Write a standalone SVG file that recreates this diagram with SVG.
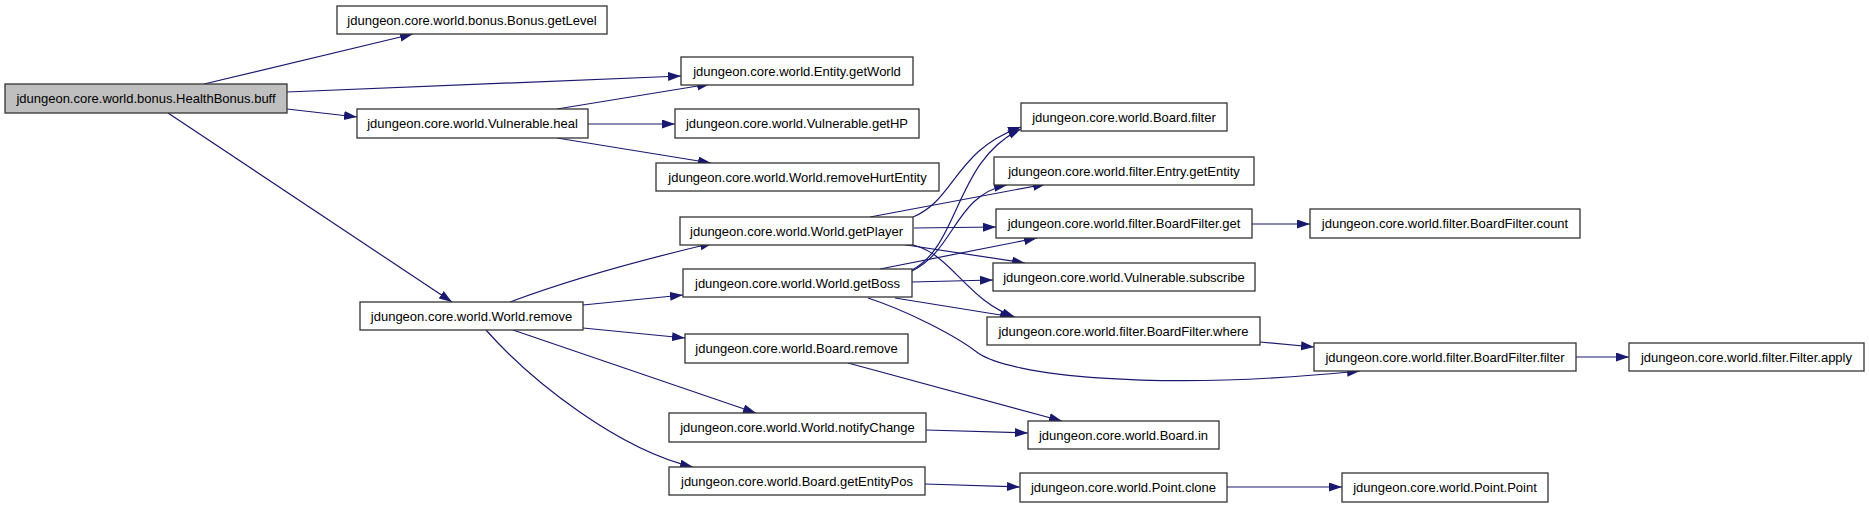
<svg xmlns="http://www.w3.org/2000/svg" width="1869" height="508" viewBox="0 0 1869 508">
<style>
.n rect{fill:#fff;stroke:#333;stroke-width:1.3}
.n.root rect{fill:#bfbfbf}
.n text{font-family:"Liberation Sans",Arial,sans-serif;font-size:13px;fill:#000;text-anchor:middle}
.e path{fill:none;stroke:#191970;stroke-width:1.2;marker-end:url(#a)}
</style>
<defs>
<marker id="a" markerUnits="userSpaceOnUse" markerWidth="14" markerHeight="10" refX="13" refY="4.5" orient="auto">
<path d="M0,0 L13,4.5 L0,9 z" fill="#191970"/>
</marker>
</defs>
<rect width="1869" height="508" fill="#fff"/>
<g id="edges" class="e">
<path d="M204,84 L413,34"/>
<path d="M287,92 L681,76"/>
<path d="M287,109 L357,117"/>
<path d="M168,113 L452,302"/>
<path d="M557,109 L710,84"/>
<path d="M588,124 L675,124"/>
<path d="M557,138 L711,163"/>
<path d="M510,302 Q590,272 713,243"/>
<path d="M583,305 L683,295"/>
<path d="M583,328 L685,338"/>
<path d="M513,330 L756,413"/>
<path d="M486,330 C533,383 620,450 693,467"/>
<path d="M870,217 L1046,184"/>
<path d="M913,217 C955,200 955,150 1021,127"/>
<path d="M914,228 L996,227"/>
<path d="M900,244 L1025,263"/>
<path d="M908,244 C950,250 965,300 1015,317"/>
<path d="M912,270 C960,245 955,160 1021,129"/>
<path d="M912,271 C955,250 955,195 1007,185"/>
<path d="M880,269 L1037,238"/>
<path d="M912,282 L993,280"/>
<path d="M895,298 L1013,317"/>
<path d="M868,298 C905,310 955,335 978,353 C1010,375 1150,392 1360,371"/>
<path d="M1260,342 L1314,347"/>
<path d="M1252,224 L1310,224"/>
<path d="M1576,357 L1629,357"/>
<path d="M848,363 L1062,421"/>
<path d="M926,430 L1028,433"/>
<path d="M925,484 L1020,487"/>
<path d="M1227,487 L1342,487"/>
</g>
<g id="buff" class="n root"><rect x="5" y="84" width="282" height="29"/><text x="146" y="103">jdungeon.core.world.bonus.HealthBonus.buff</text></g>
<g id="getLevel" class="n"><rect x="337" y="6" width="270" height="28"/><text x="472" y="25">jdungeon.core.world.bonus.Bonus.getLevel</text></g>
<g id="getWorld" class="n"><rect x="681" y="57" width="232" height="28"/><text x="797" y="76">jdungeon.core.world.Entity.getWorld</text></g>
<g id="heal" class="n"><rect x="357" y="109" width="231" height="29"/><text x="472.5" y="128">jdungeon.core.world.Vulnerable.heal</text></g>
<g id="getHP" class="n"><rect x="675" y="109" width="244" height="29"/><text x="797" y="128">jdungeon.core.world.Vulnerable.getHP</text></g>
<g id="removeHurtEntity" class="n"><rect x="656" y="163" width="283" height="28"/><text x="797.5" y="182">jdungeon.core.world.World.removeHurtEntity</text></g>
<g id="worldRemove" class="n"><rect x="360" y="302" width="223" height="28"/><text x="471.5" y="321">jdungeon.core.world.World.remove</text></g>
<g id="getPlayer" class="n"><rect x="680" y="217" width="233" height="28"/><text x="796.5" y="236">jdungeon.core.world.World.getPlayer</text></g>
<g id="getBoss" class="n"><rect x="683" y="269" width="229" height="28"/><text x="797.5" y="288">jdungeon.core.world.World.getBoss</text></g>
<g id="boardRemove" class="n"><rect x="685" y="334" width="223" height="29"/><text x="796.5" y="353">jdungeon.core.world.Board.remove</text></g>
<g id="notifyChange" class="n"><rect x="669" y="413" width="257" height="29"/><text x="797.5" y="432">jdungeon.core.world.World.notifyChange</text></g>
<g id="getEntityPos" class="n"><rect x="669" y="467" width="256" height="28"/><text x="797" y="486">jdungeon.core.world.Board.getEntityPos</text></g>
<g id="boardFilter" class="n"><rect x="1021" y="103" width="206" height="28"/><text x="1124" y="122">jdungeon.core.world.Board.filter</text></g>
<g id="getEntity" class="n"><rect x="994" y="157" width="260" height="28"/><text x="1124" y="176">jdungeon.core.world.filter.Entry.getEntity</text></g>
<g id="bfGet" class="n"><rect x="996" y="209" width="256" height="29"/><text x="1124" y="228">jdungeon.core.world.filter.BoardFilter.get</text></g>
<g id="subscribe" class="n"><rect x="993" y="263" width="262" height="28"/><text x="1124" y="282">jdungeon.core.world.Vulnerable.subscribe</text></g>
<g id="bfWhere" class="n"><rect x="987" y="317" width="273" height="28"/><text x="1123.5" y="336">jdungeon.core.world.filter.BoardFilter.where</text></g>
<g id="boardIn" class="n"><rect x="1028" y="421" width="191" height="28"/><text x="1123.5" y="440">jdungeon.core.world.Board.in</text></g>
<g id="pointClone" class="n"><rect x="1020" y="473" width="207" height="29"/><text x="1123.5" y="492">jdungeon.core.world.Point.clone</text></g>
<g id="bfCount" class="n"><rect x="1310" y="209" width="270" height="29"/><text x="1445" y="228">jdungeon.core.world.filter.BoardFilter.count</text></g>
<g id="bfFilter" class="n"><rect x="1314" y="343" width="262" height="28"/><text x="1445" y="362">jdungeon.core.world.filter.BoardFilter.filter</text></g>
<g id="filterApply" class="n"><rect x="1629" y="343" width="235" height="28"/><text x="1746.5" y="362">jdungeon.core.world.filter.Filter.apply</text></g>
<g id="pointPoint" class="n"><rect x="1342" y="473" width="206" height="29"/><text x="1445" y="492">jdungeon.core.world.Point.Point</text></g>
</svg>
